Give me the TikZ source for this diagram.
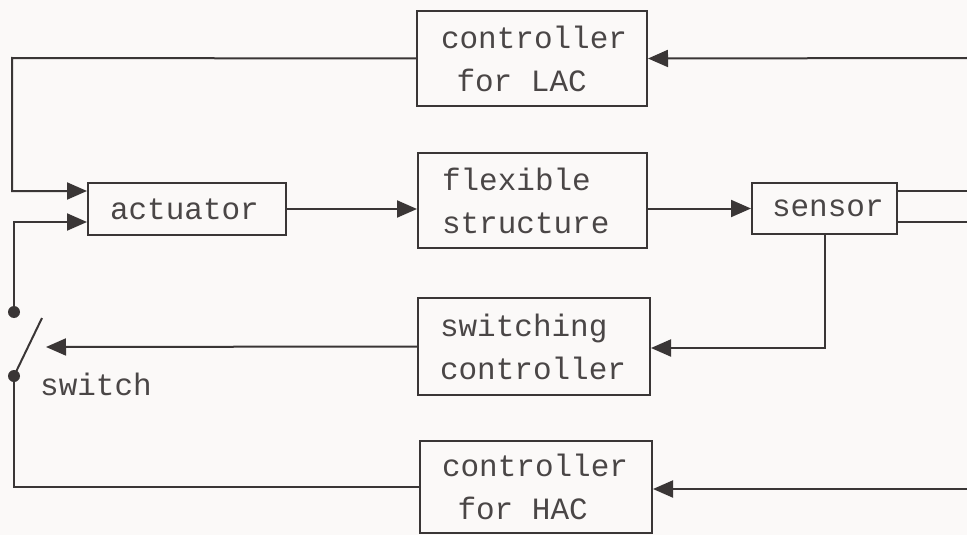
\documentclass[tikz,border=0pt]{standalone}
\usepackage{fontspec}
\setmonofont{Liberation Mono}
\usetikzlibrary{arrows.meta}
\definecolor{ink}{HTML}{3A3636}
\definecolor{txt}{HTML}{4A4646}
\definecolor{paper}{HTML}{FBF9F8}
\newcommand{\msp}{\hspace{0.6em}}
\tikzset{
  blockbox/.style={draw=ink, line width=2pt, rectangle, align=left, inner ysep=0pt,
    font=\ttfamily\fontsize{31}{43}\selectfont, text=txt},
  conn/.style={draw=ink, line width=2pt},
  arr/.style={conn, -{Triangle[length=20pt,width=17pt]}},
  dotsw/.style={circle, fill=ink, inner sep=0pt, minimum size=12pt},
  lbl/.style={font=\ttfamily\fontsize{31}{43}\selectfont, text=txt, inner sep=0pt}
}
\begin{document}
\begin{tikzpicture}[x=1pt,y=-1pt]
\fill[paper] (0,0) rectangle (967,535);
\useasboundingbox (0,0) rectangle (967,535);

\node[blockbox, inner xsep=24pt, text width=182pt, minimum height=95pt] (lac) at (532,58.5) {controller\\\hspace{0.5em}for\msp LAC};
\node[blockbox, inner xsep=22pt, text width=154pt, minimum height=52pt] (act) at (187,209) {actuator};
\node[blockbox, inner xsep=24pt, text width=181pt, minimum height=95pt] (flex) at (532.5,200.5) {flexible\\structure};
\node[blockbox, inner xsep=20pt, text width=105pt, minimum height=51pt] (sen) at (824.5,208.5) {sensor};
\node[blockbox, inner xsep=22pt, text width=188pt, minimum height=97pt] (swc) at (534,346.5) {switching\\controller};
\node[blockbox, inner xsep=22pt, text width=188pt, minimum height=92pt] (hac) at (536,487) {controller\\\hspace{0.5em}for\msp HAC};

% switch
\node[dotsw] (sw1) at (14,312) {};
\node[dotsw] (sw2) at (14,376) {};
\coordinate (blade) at (42,318);
\coordinate (swin) at (46,347);
\node[lbl] (swlbl) at (96,384) {switch};

% edge coordinates (lines leaving the picture)
\coordinate (lt) at (12,58);
\coordinate (re1) at (967,191);
\coordinate (re2) at (967,222);
\coordinate (re3) at (967,58);
\coordinate (re4) at (967,489);

% LAC loop
\draw[arr] (lac.west) -- (lt) |- ([yshift=18pt]act.west);
\draw[arr] (re3) -- (lac.east);
% forward path
\draw[arr] (act.east) -- (act.east -| flex.west);
\draw[arr] (flex.east |- sen.west) -- (sen.west);
\draw[conn] ([yshift=17.5pt]sen.east) -- (re1);
\draw[conn] ([yshift=-13.5pt]sen.east) -- (re2);
% switching controller
\draw[arr] (sen.south) |- ([yshift=-1.5pt]swc.east);
\draw[arr] (swc.west) -- (swin);
% switch
\draw[arr] (sw1.center) |- ([yshift=-13pt]act.west);
\draw[conn] (sw2.center) -- (blade);
\draw[conn] (sw2.center) |- (hac.west);
\draw[arr] (re4) -- (hac.east |- re4);
\end{tikzpicture}
\end{document}
